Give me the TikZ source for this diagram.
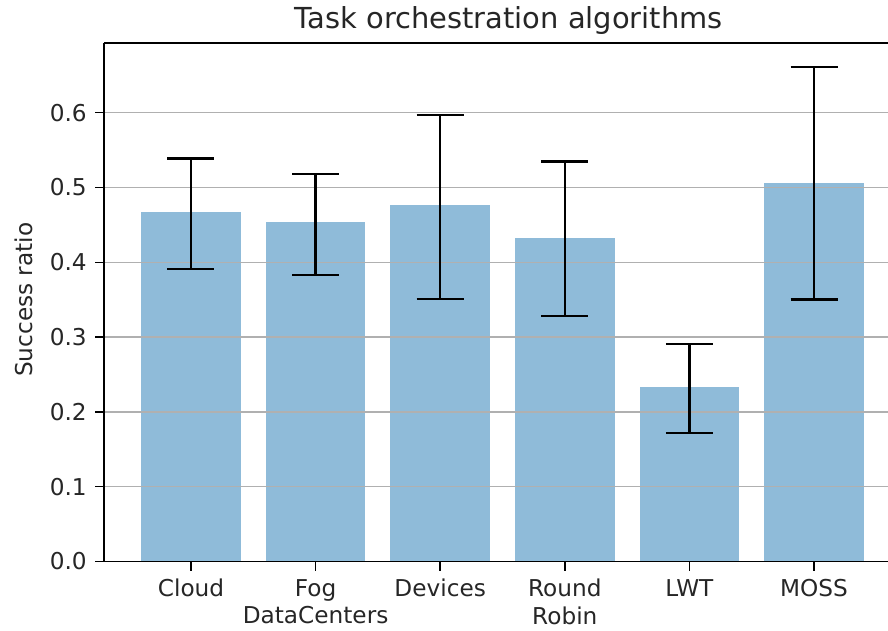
\documentclass[tikz,border=0pt]{standalone}
\usepackage{fontspec}
\setmainfont{DejaVu Sans}
\definecolor{barblue}{RGB}{143,187,217}
\definecolor{gridgray}{RGB}{176,176,176}
\definecolor{inkgray}{RGB}{38,38,38}
\begin{document}
\begin{tikzpicture}[x=93.45pt, y=561pt,
  barfill/.style={fill=barblue, draw=none},
  gridrule/.style={draw=gridgray, line width=1.1pt},
  spine/.style={draw=black, line width=1.16pt},
  errbar/.style={draw=black, line width=1.9pt},
  ticklab/.style={font=\fontsize{17.4}{20.5}\selectfont, text=inkgray, inner sep=0pt},
  titlelab/.style={font=\fontsize{21.7}{26}\selectfont, text=inkgray, inner sep=0pt},
]
% canvas
\clip (-1.5329,-0.09158) rectangle (5.5939,0.75067);

% bars
\foreach \i/\h in {0/0.467,1/0.454,2/0.476,3/0.432,4/0.233,5/0.506}
  \fill[barfill] (\i-0.4,0) rectangle (\i+0.4,\h);

% horizontal grid, y ticks and labels
\foreach \v in {0.1,0.2,0.3,0.4,0.5,0.6}
  \draw[gridrule] (-0.7,\v) -- (5.7,\v);
\foreach \v/\t in {0/0.0,0.1/0.1,0.2/0.2,0.3/0.3,0.4/0.4,0.5/0.5,0.6/0.6} {
  \draw[spine] (-0.7,\v) -- ++(-6.75pt,0);
  \node[ticklab, anchor=east, xshift=-12.6pt] (ytick\t) at (-0.7,\v) {\t};
}

% error bars
\foreach \i/\lo/\hi in {0/0.391/0.539,1/0.383/0.518,2/0.351/0.597,3/0.328/0.535,4/0.172/0.291,5/0.350/0.661} {
  \draw[errbar] (\i,\lo) -- (\i,\hi);
  \draw[errbar] (\i-0.1886,\lo) -- (\i+0.1886,\lo);
  \draw[errbar] (\i-0.1886,\hi) -- (\i+0.1886,\hi);
}

% axes frame
\draw[spine] (-0.7,0.6932) -- (-0.7,0) -- (5.7,0);
\draw[spine] (-0.7,0.6932) -- (5.7,0.6932);

% x ticks and labels
\foreach \i/\t in {0/Cloud,1/Fog\\DataCenters,2/Devices,3/Round\\Robin,4/LWT,5/MOSS} {
  \draw[spine] (\i,0) -- ++(0,-6.75pt);
  \node[ticklab, anchor=north, align=center, yshift=-13pt] (xtick\i) at (\i,0) {\t};
}

% title and axis label
\node[titlelab, anchor=base] (title) at (2.55,0.7132) {Task orchestration algorithms};
\node[ticklab, rotate=90] (ylabel) at (-1.340,0.350) {Success ratio};
\end{tikzpicture}
\end{document}
